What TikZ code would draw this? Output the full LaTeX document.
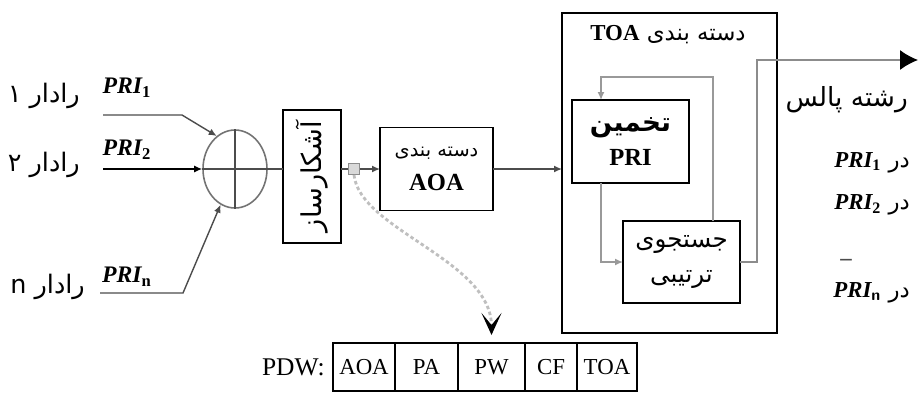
\documentclass[tikz,border=0pt]{standalone}
\usepackage{fontspec}
\setmainfont{Liberation Serif}
\newfontfamily\farsi[Script=Arabic]{DejaVu Sans}
\TeXXeTstate=1
\usetikzlibrary{arrows.meta,positioning,shapes.geometric}

% PRI with a subscript, bold italic
\newcommand{\pri}[1]{{\rmfamily\bfseries\itshape PRI\textsubscript{\upshape #1}}}
% right-to-left Persian text
\newcommand{\fa}[1]{{\farsi\beginR #1\endR}}

\begin{document}
\begin{tikzpicture}[>={Latex[length=0.16cm,width=0.14cm]}]

	\tikzset{
		box/.style={draw=black, line width=1.1pt, inner sep=0pt, outer sep=0pt},
		sig/.style={draw=black!70, line width=0.8pt},
		fb/.style={draw=black!40, line width=0.8pt},
		cell/.style={draw=black, line width=0.7pt, minimum height=0.96cm,
			inner sep=0pt, outer sep=0pt, font=\fontsize{13}{15}\selectfont},
		radar/.style={anchor=east, font=\farsi\fontsize{14.5}{16}\selectfont},
		prilab/.style={font=\fontsize{13.5}{15}\selectfont},
		outlab/.style={anchor=east, font=\fontsize{13}{15}\selectfont},
	}

	\useasboundingbox (0,0) rectangle (18.36,7.84);

	%========================================
	% Inputs: radars and the adder
	%========================================
	\node[radar] (r1) at (1.72,5.92) {\beginR رادار ۱\endR};
	\node[radar] (r2) at (1.72,4.54) {\beginR رادار ۲\endR};
	\node[radar] (rN) at (1.82,2.10) {\beginR رادار \beginL n\endL\endR};

	\node[prilab] (p1) at (2.54,6.08) {\pri{1}};
	\node[prilab] (p2) at (2.54,4.84) {\pri{2}};
	\node[prilab] (pN) at (2.54,2.30) {\pri{n}};

	\node[ellipse, draw=black!55, line width=0.9pt, minimum width=1.28cm,
		minimum height=1.56cm, inner sep=0pt] (sum) at (4.70,4.46) {};
	\draw[sig] (sum.north) -- (sum.south);
	\draw[sig] (sum.west) -- (sum.east);

	\coordinate (in1) at (2.06,5.54);
	\coordinate (in2) at (2.06,4.46);
	\coordinate (inN) at (2.00,1.98);
	\draw[sig,->] (in1) -- (3.64,5.54) -- (sum.119);
	\draw[sig,->,draw=black] (in2) -- (sum.west);
	\draw[sig,->] (inN) -- (3.66,1.98) -- (sum.248);

	%========================================
	% Detector and AOA sorting
	%========================================
	\node[box, minimum width=1.16cm, minimum height=2.66cm] (det) at (6.24,4.31) {};
	\node[rotate=90, font=\farsi\fontsize{15.5}{17}\selectfont] (detlab) at (det.center)
		{\beginR آشکارساز\endR};
	\draw[sig] (sum.east) -- (sum.east -| det.west);

	\node[draw=black!45, fill=black!15, line width=0.6pt, minimum size=0.22cm,
		inner sep=0pt] (tap) at (7.08,4.46) {};
	\draw[sig] (det.east |- tap) -- (tap);

	\node[box, minimum width=2.26cm, minimum height=1.66cm, align=center,
		font=\fontsize{14}{19}\selectfont] (aoa) at (8.73,4.46)
		{\fa{\fontsize{11}{13}\selectfont دسته بندی}\\
		 \textbf{AOA}};
	\draw[sig,->] (tap) -- (aoa.west);

	%========================================
	% TOA sorting
	%========================================
	\node[box, minimum width=4.30cm, minimum height=6.40cm] (toa) at (13.39,4.38) {};
	\draw[sig,->] (aoa.east) -- (aoa.east -| toa.west);
	\node[font=\fontsize{13}{15}\selectfont] (toatitle) at (13.36,7.14)
		{\fa{دسته بندی \beginL{\rmfamily\bfseries TOA}\endL}};

	\node[box, minimum width=2.34cm, minimum height=1.66cm, align=center,
		font=\fontsize{14}{19}\selectfont] (est) at (12.61,5.01)
		{\fa{\fontsize{15}{17}\selectfont\bfseries تخمین}\\
		 \textbf{PRI}};
	\node[box, minimum width=2.34cm, minimum height=1.64cm, align=center,
		font=\fontsize{14}{20}\selectfont] (srch) at (13.63,2.60)
		{\fa{جستجوی}\\
		 \fa{ترتیبی}};

	% feedback loop and estimate -> search
	\coordinate (fbT) at (14.26,6.30);
	\draw[fb,->] (srch.north -| fbT) -- (fbT) -| ([xshift=-0.59cm]est.north);
	\draw[fb,->] ([xshift=-0.59cm]est.south) |- (srch.west);

	% output pulse train
	\coordinate (pulse) at (18.36,6.64);
	\draw[fb,draw=black!45,-{Latex[black,length=0.36cm,width=0.40cm]}]
		(srch.east) -- ++(0.34,0) |- (pulse);

	%========================================
	% Output labels
	%========================================
	\node[anchor=east, font=\farsi\fontsize{15}{17}\selectfont] (train) at (18.28,5.84)
		{\beginR رشته پالس\endR};
	\node[outlab] (o1) at (18.32,4.58) {\fa{در \beginL\pri{1}\endL}};
	\node[outlab] (o2) at (18.32,3.74) {\fa{در \beginL\pri{2}\endL}};
	\node[font=\bfseries\fontsize{13}{15}\selectfont, text=black!70] (odots) at (16.92,2.60) {--};
	\node[outlab] (oN) at (18.32,1.98) {\fa{در \beginL\pri{\sffamily n}\endL}};

	%========================================
	% PDW word
	%========================================
	\node[cell, minimum width=1.24cm] (cAOA) at (7.28,0.50) {AOA};
	\node[cell, minimum width=1.26cm, right=0pt of cAOA] (cPA) {PA};
	\node[cell, minimum width=1.34cm, right=0pt of cPA] (cPW) {PW};
	\node[cell, minimum width=1.04cm, right=0pt of cPW] (cCF) {CF};
	\node[cell, minimum width=1.20cm, right=0pt of cCF] (cTOA) {TOA};
	\draw[box] (cAOA.north west) rectangle (cTOA.south east);
	\node[left=0.04cm of cAOA, font=\fontsize{14.5}{16}\selectfont] (pdw) {PDW:};

	% detector output -> PDW
	\draw[draw=black!25, line width=1.6pt, dash pattern=on 2pt off 1.5pt,
		-{Stealth[black,length=0.44cm,width=0.40cm,inset=0.24cm]}, shorten >=0.16cm]
		(tap.south) .. controls (7.20,3.24) and (9.83,2.64) .. (cPW.north);

\end{tikzpicture}
\end{document}
